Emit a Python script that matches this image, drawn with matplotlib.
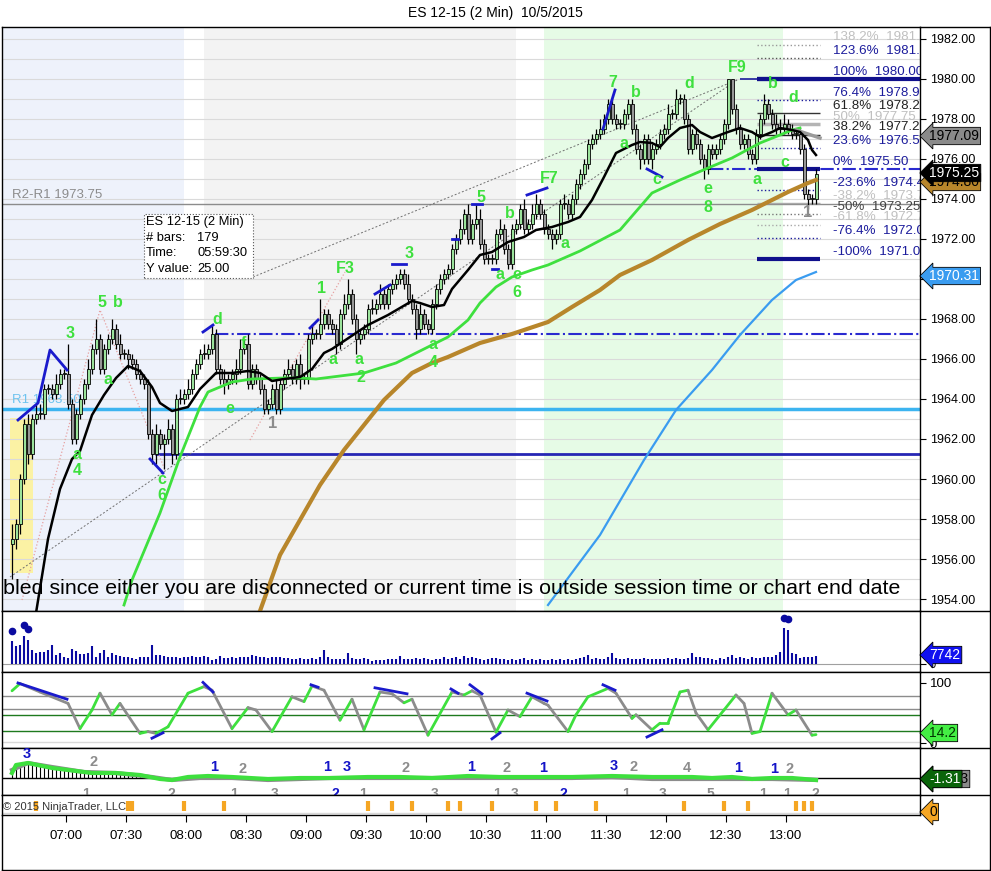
import numpy as np
import matplotlib
matplotlib.use("Agg")
import matplotlib.pyplot as plt
from matplotlib.lines import Line2D
from matplotlib.patches import Rectangle

plt.rcParams['font.family'] = ['Liberation Sans', 'DejaVu Sans']

# ---------------- data ----------------
# 2 minute bars, bar 0 = 06:33
start_minutes = 6 * 60 + 33
bar_minutes = 2
time_labels = ["07:00", "07:30", "08:00", "08:30", "09:00", "09:30", "10:00",
               "10:30", "11:00", "11:30", "12:00", "12:30", "13:00"]

first_open = 1956.75
closes = [
    1957.0, 1957.75, 1960.0, 1962.75, 1961.25, 1963.0, 1963.25, 1963.25, 1964.5, 1964.5,
    1964.25, 1964.75, 1965.25, 1965.25, 1963.75, 1962.0, 1963.25, 1964.0, 1964.75, 1965.5,
    1966.5, 1967.0, 1965.5, 1966.5, 1967.0, 1967.5, 1966.75, 1966.25, 1966.25, 1966.0,
    1965.75, 1965.25, 1965.0, 1964.75, 1962.25, 1961.25, 1962.25, 1961.75, 1962.0, 1962.5,
    1961.25, 1964.0, 1964.0, 1964.25, 1964.5, 1965.25, 1965.75, 1966.25, 1966.25, 1966.5,
    1967.25, 1965.5, 1965.0, 1964.75, 1965.0, 1965.25, 1965.5, 1966.5, 1966.75, 1964.75,
    1965.5, 1965.0, 1964.5, 1963.5, 1963.75, 1964.5, 1963.5, 1964.75, 1965.25, 1965.5,
    1965.0, 1965.75, 1965.0, 1965.0, 1967.0, 1967.25, 1967.25, 1967.75, 1968.25, 1967.75,
    1967.5, 1966.75, 1968.25, 1968.75, 1969.25, 1968.0, 1967.0, 1967.25, 1967.5, 1968.5,
    1968.5, 1968.75, 1969.25, 1968.75, 1969.5, 1969.75, 1970.0, 1970.25, 1969.75, 1969.0,
    1968.5, 1967.5, 1968.25, 1967.75, 1967.5, 1968.75, 1969.5, 1970.0, 1970.25, 1970.5,
    1971.5, 1972.0, 1972.5, 1973.25, 1972.0, 1972.75, 1973.0, 1971.75, 1971.0, 1971.0,
    1971.0, 1972.25, 1972.5, 1971.5, 1970.75, 1972.5, 1972.75, 1973.5, 1972.5, 1972.75,
    1973.25, 1973.75, 1973.25, 1972.5, 1972.25, 1972.0, 1972.25, 1973.75, 1973.75, 1973.25,
    1974.0, 1974.75, 1975.25, 1975.75, 1976.75, 1977.0, 1977.25, 1977.5, 1978.0, 1978.75,
    1978.0, 1977.75, 1977.75, 1978.25, 1978.75, 1977.5, 1976.5, 1976.0, 1977.0, 1976.0,
    1976.5, 1976.75, 1977.25, 1977.5, 1978.25, 1978.25, 1979.0, 1979.0, 1978.0, 1976.5,
    1977.25, 1976.75, 1976.0, 1975.5, 1976.5, 1976.25, 1976.5, 1977.0, 1977.75, 1980.0,
    1978.5, 1977.5, 1976.75, 1977.0, 1976.25, 1976.0, 1977.25, 1978.0, 1978.75, 1978.25,
    1977.75, 1977.5, 1977.5, 1977.75, 1977.5, 1977.25, 1977.25, 1976.5, 1974.25, 1974.0,
    1974.0, 1975.25]
# wick lengths in ticks (0.25) above / below the body
up_ticks = [
    3, 1, 1, 1, 2, 1, 2, 2, 1, 1,  1, 2, 1, 1, 6, 1, 1, 1, 1, 2,
    1, 4, 1, 1, 1, 2, 1, 2, 1, 1,  1, 1, 1, 1, 1, 1, 2, 1, 1, 2,
    1, 1, 2, 1, 2, 1, 1, 1, 2, 1,  2, 1, 1, 2, 1, 1, 2, 2, 1, 2,
    1, 1, 1, 1, 1, 1, 2, 1, 1, 2,  1, 1, 2, 1, 1, 2, 1, 5, 1, 1,
    1, 1, 1, 2, 3, 1, 1, 1, 1, 1,  2, 1, 2, 1, 1, 1, 1, 1, 1, 2,
    1, 1, 2, 1, 1, 1, 1, 1, 1, 1,  1, 1, 2, 1, 2, 1, 3, 2, 1, 1,
    1, 1, 2, 1, 1, 1, 1, 1, 2, 1,  2, 2, 1, 1, 1, 1, 1, 1, 2, 1,
    1, 1, 1, 1, 1, 1, 1, 2, 1, 1,  1, 1, 1, 1, 1, 1, 1, 1, 1, 1,
    1, 1, 1, 1, 2, 1, 2, 1, 1, 1,  1, 1, 1, 1, 1, 1, 1, 1, 1, 0,
    0, 1, 1, 1, 1, 1, 1, 1, 2, 1,  1, 2, 2, 2, 1, 1, 1, 1, 1, 1,
    1, 1]
down_ticks = [
    7, 2, 2, 1, 2, 1, 1, 1, 1, 1,  1, 1, 1, 1, 1, 1, 1, 1, 1, 1,
    1, 1, 1, 1, 1, 1, 1, 1, 1, 2,  1, 1, 1, 1, 1, 2, 2, 1, 5, 1,
    2, 1, 1, 1, 1, 1, 1, 1, 1, 1,  1, 1, 1, 2, 1, 1, 2, 1, 1, 1,
    1, 1, 1, 1, 1, 1, 1, 1, 1, 1,  1, 1, 2, 1, 1, 1, 1, 1, 1, 1,
    1, 2, 1, 1, 1, 1, 3, 1, 1, 1,  1, 1, 1, 1, 1, 1, 1, 1, 1, 1,
    1, 2, 1, 1, 1, 1, 1, 1, 1, 1,  1, 1, 1, 1, 1, 1, 1, 1, 1, 1,
    1, 1, 1, 1, 1, 1, 1, 1, 1, 1,  1, 1, 1, 1, 1, 2, 1, 1, 1, 1,
    1, 1, 1, 1, 1, 1, 1, 1, 1, 1,  1, 1, 1, 1, 1, 1, 1, 2, 1, 1,
    2, 1, 1, 1, 1, 1, 1, 1, 1, 1,  1, 1, 1, 2, 1, 1, 1, 1, 1, 1,
    1, 1, 1, 1, 1, 1, 1, 1, 1, 1,  1, 1, 1, 1, 1, 1, 1, 1, 1, 2,
    1, 1]

volumes = [
    22600, 17400, 18400, 27400, 23200, 13600, 10400, 11300, 11900, 13600,
    18400, 8700, 10400, 7100, 5500, 14200, 12900, 9700, 9700, 10400,
    17400, 7100, 10400, 13600, 7100, 10400, 8700, 7700, 6500, 6500,
    5500, 4500, 6500, 6500, 7100, 18400, 8700, 8700, 7700, 7100,
    7100, 6500, 5500, 6500, 6500, 7700, 7100, 6500, 7700, 7100,
    3900, 4500, 7700, 5500, 5500, 6500, 5500, 6500, 7100, 6500,
    8700, 7700, 7100, 6500, 5500, 7100, 6500, 6500, 5500, 5500,
    4500, 4500, 5500, 4500, 4500, 5500, 4500, 6500, 13600, 6500,
    4500, 4500, 4500, 4500, 10900, 5500, 4500, 4500, 5500, 4500,
    3200, 3900, 3900, 3900, 4500, 4500, 4500, 7700, 4500, 4500,
    4500, 5500, 4500, 5500, 4500, 3900, 4500, 4500, 6500, 4500,
    5500, 7100, 4500, 7700, 5500, 6500, 5500, 4500, 3900, 4500,
    5500, 5500, 4500, 4500, 3900, 4500, 3900, 4500, 5500, 3900,
    4500, 3900, 4500, 3900, 3900, 4500, 3900, 4500, 3900, 4500,
    3900, 4500, 5500, 6500, 8700, 4500, 5800, 4500, 4500, 6500,
    10400, 5500, 4500, 4500, 5500, 4500, 4500, 4500, 5500, 4500,
    4500, 4500, 4500, 4500, 5500, 4500, 5500, 4500, 4500, 5500,
    10400, 6500, 6500, 5500, 5500, 4500, 3600, 5500, 4500, 7100,
    8700, 5500, 6500, 5500, 4500, 6500, 5500, 5500, 6500, 6500,
    7100, 8700, 11600, 34600, 32900, 10400, 9700, 5500, 6500, 6500,
    6500, 7742]
vol_dot_bars = [0, 3, 4, 193, 194]
vol_dot_vals = [31900, 37800, 33900, 44500, 43600]

# moving averages (sampled bar, value)
ema_bars = [6, 9, 12, 15, 17, 20, 23, 26, 29, 32, 35, 37, 40, 44, 47, 51, 55, 59, 62, 65,
            68, 72, 75, 78, 80, 83, 86, 89, 94, 97, 100, 102, 105, 108, 110, 114, 117, 120,
            124, 128, 131, 135, 139, 142, 145, 148, 151, 155, 157, 160, 162, 164, 167, 170,
            172, 175, 177, 179, 182, 185, 187, 190, 192, 195, 197, 199, 200, 201]
ema_vals = [1953.3, 1957.0, 1959.5, 1961.0, 1961.4, 1963.2, 1964.2, 1965.05, 1965.65, 1965.4,
            1964.6, 1963.8, 1963.4, 1963.6, 1964.5, 1965.3, 1965.3, 1965.4, 1965.3, 1964.9,
            1965.0, 1965.1, 1965.5, 1966.3, 1966.5, 1966.9, 1967.3, 1967.7, 1968.2, 1968.55,
            1968.9, 1968.8, 1968.6, 1968.7, 1969.5, 1970.45, 1971.2, 1971.35, 1971.85, 1972.1,
            1972.45, 1972.6, 1972.85, 1973.1, 1973.95, 1975.1, 1976.3, 1976.7, 1976.85, 1976.8,
            1976.6, 1977.05, 1977.55, 1977.7, 1977.35, 1977.05, 1977.2, 1977.35, 1977.55, 1977.35,
            1977.1, 1977.35, 1977.55, 1977.45, 1977.35, 1976.95, 1976.45, 1976.2]
sma_green_bars = [28, 30, 37, 42, 47, 49, 52, 55, 60, 68, 72, 76, 80, 88, 96, 104, 109, 114,
                  117, 121, 125, 130, 134, 138, 142, 152, 160, 167, 174, 180, 187, 192, 195, 197]
sma_green_vals = [1953.7, 1954.95, 1958.3, 1961.1, 1963.6, 1964.35, 1964.6, 1964.85, 1965.0,
                  1965.05, 1965.05, 1965.0, 1965.1, 1965.3, 1965.8, 1966.6, 1967.1, 1967.95,
                  1968.8, 1969.6, 1970.1, 1970.45, 1970.7, 1971.05, 1971.4, 1972.45, 1974.3,
                  1974.95, 1975.55, 1976.05, 1976.8, 1977.2, 1977.45, 1977.55]
sma_brown_bars = [62, 67, 72, 77, 83, 89, 93, 100, 105, 109, 117, 125, 134, 140, 147, 152,
                  160, 169, 177, 185, 194, 199, 201]
sma_brown_vals = [1953.4, 1956.2, 1957.95, 1959.7, 1961.45, 1962.95, 1963.95, 1965.3, 1965.8,
                  1966.1, 1966.8, 1967.25, 1967.85, 1968.6, 1969.45, 1970.2, 1970.95, 1971.95,
                  1972.75, 1973.45, 1974.35, 1974.8, 1974.95]
sma_blue_bars = [134, 147, 158, 166, 175, 182, 190, 196, 201]
sma_blue_vals = [1953.7, 1957.2, 1960.95, 1963.45, 1965.45, 1967.2, 1968.95, 1969.95, 1970.35]

# stochastics (sampled)
sto_bars = [0, 2, 7, 14, 17, 20, 22, 25, 27, 32, 34, 36, 39, 44, 48, 50, 55, 59, 61, 65,
            70, 73, 75, 78, 82, 85, 88, 92, 95, 98, 100, 104, 110, 113, 115, 117, 121, 124,
            127, 130, 133, 134, 139, 141, 144, 149, 151, 155, 156, 160, 162, 164, 167, 169,
            171, 174, 178, 181, 183, 185, 187, 190, 194, 196, 200, 201]
sto_vals = [87, 99, 85, 66, 24, 55, 83, 47, 66, 16, 19, 16, 27, 83, 94, 88, 24, 59, 55, 19,
            77, 69, 95, 88, 38, 73, 22, 85, 82, 67, 73, 13, 85, 80, 87, 80, 18, 55, 44, 77,
            66, 63, 19, 47, 77, 91, 83, 41, 47, 22, 33, 33, 85, 88, 50, 22, 55, 80, 66, 16,
            19, 83, 47, 55, 13, 14]
sto_levels = [78, 57, 47, 20, 1.7]
sto_divergences = [[(1.5, 100), (13.75, 73)], [(35, 8), (37.75, 17)], [(47.75, 101), (50.25, 85)],
                   [(74.75, 97), (76.5, 93)], [(90.75, 92), (98.75, 82)], [(109.75, 90), (111.5, 83)],
                   [(114.5, 97), (117.5, 82)], [(120, 7), (122, 17)], [(128.75, 83), (133.75, 70)],
                   [(147.75, 97), (150.75, 88)], [(158.75, 10), (162.5, 22)]]

# macd-style panel (sampled)
macd_bars = [0, 1, 4, 10, 14, 20, 26, 32, 37, 40, 44, 49, 55, 64, 72, 80, 89, 97, 105, 114,
             122, 130, 140, 150, 160, 170, 175, 180, 185, 190, 195, 201]
macd_vals = [5, 13, 15, 10, 8, 5, 5, 3, -1, -2, 1, 2, 1, -1, 0, 0, 1, 1, 0, 2,
             1, 1, 1, 2, 1, 1, 0, 1, -1, 0, 0, -2]
signal_bars = [0, 4, 10, 18, 26, 35, 40, 47, 55, 64, 72, 80, 89, 97, 110, 125, 140, 150,
               160, 170, 180, 190, 201]
signal_vals = [8, 15, 11, 6, 5, 1, -2, 0, 0, -2, -1, 0, 0, 0, 0, 0, 0, 1, -1, -1, -1, -1, -2]
hist_vals = [8, 11, 13, 14, 15, 15, 15, 14, 13, 12, 11, 11, 10, 10, 9, 9, 8, 7, 6, 6, 6, 5,
             5, 5, 5, 5, 5, 4, 4, 4, 3, 3, 3, 3, 2, 2, 1, 1, -1, -1, -2, -2, -1]
swing_top = [("3", 3.75, 24, 'b'), ("2", 20.5, 16, 'g'), ("1", 50.5, 11, 'b'), ("2", 57.75, 9, 'g'),
             ("1", 78.75, 11, 'b'), ("3", 83.75, 11, 'b'), ("2", 98.5, 10, 'g'), ("1", 114.75, 11, 'b'),
             ("2", 123.75, 10, 'g'), ("1", 132.75, 10, 'b'), ("3", 150.5, 12, 'b'), ("2", 155.5, 11, 'g'),
             ("4", 168.75, 10, 'g'), ("1", 181.5, 10, 'b'), ("1", 190.5, 9, 'b'), ("2", 194.5, 9, 'g')]
swing_bottom = [("1", 18.5, 'g'), ("2", 39.75, 'g'), ("1", 55.5, 'g'), ("3", 65.75, 'g'),
                ("2", 80.75, 'b'), ("1", 87.75, 'g'), ("3", 105.75, 'g'), ("1", 121.25, 'g'),
                ("3", 125.75, 'g'), ("2", 137.75, 'b'), ("1", 153.5, 'g'), ("3", 162.75, 'g'),
                ("5", 174.5, 'g'), ("1", 187.75, 'g'), ("1", 193.75, 'g'), ("2", 200.75, 'g')]

# signal markers at the bottom strip
marker_bars = [6, 29, 30, 43, 53, 89, 95, 100, 109, 112, 120, 131, 136, 146, 168, 178, 184, 196, 198, 200]

# wave labels on the price panel (text, bar, price)
wave_labels = [("3", 14.5, 1967.3), ("5", 22.5, 1968.8), ("b", 26.5, 1968.8), ("a", 24, 1964.95),
               ("a", 16.25, 1961.2), ("4", 16.25, 1960.4), ("c", 37.5, 1960.0), ("6", 37.5, 1959.15),
               ("d", 51.25, 1967.95), ("f", 57.75, 1966.8), ("e", 54.5, 1963.55), ("1", 77.25, 1969.5),
               ("F3", 83.25, 1970.5), ("a", 80.25, 1965.95), ("a", 86.75, 1965.95), ("2", 87.25, 1965.1),
               ("3", 99.25, 1971.25), ("a", 105.25, 1966.7), ("4", 105.25, 1965.85), ("5", 117.25, 1974.05),
               ("b", 124.5, 1973.25), ("a", 122, 1970.2), ("c", 126.25, 1970.2), ("6", 126.25, 1969.35),
               ("F7", 134.25, 1975.0), ("a", 138.25, 1971.75), ("7", 150.25, 1979.8), ("b", 156, 1979.3),
               ("a", 153, 1976.75), ("c", 161.25, 1974.95), ("d", 169.25, 1979.75), ("e", 174, 1974.5),
               ("8", 174, 1973.6), ("F9", 181.25, 1980.55), ("b", 190.25, 1979.75), ("d", 195.25, 1979.05),
               ("c", 193.25, 1975.8), ("a", 186.25, 1974.95)]
gray_labels = [("1", 65.25, 1962.75), ("1", 199, 1973.3)]

price_divergences = [[(1.5, 1962.95), (6.5, 1963.8), (9.5, 1966.45), (13.75, 1965.45)],
                     [(34.5, 1961.0), (37.75, 1960.3)], [(47.75, 1967.35), (50.25, 1967.7)],
                     [(74.5, 1967.55), (76.5, 1967.95)], [(90.75, 1969.25), (94.5, 1969.7)],
                     [(95, 1970.75), (98.5, 1970.75)], [(110, 1972.0), (111.5, 1972.0)],
                     [(115, 1973.75), (117.5, 1973.75)], [(120, 1970.5), (121.5, 1970.5)],
                     [(128.75, 1974.2), (133.75, 1974.55)], [(147.75, 1977.5), (150.75, 1979.45)],
                     [(158.75, 1975.5), (162.5, 1975.1)]]

# fibonacci extension (0% = 1975.50, 100% = 1980.00)
fib_pct = ["138.2%", "123.6%", "100%", "76.4%", "61.8%", "50%", "38.2%", "23.6%", "0%",
           "-23.6%", "-38.2%", "-50%", "-61.8%", "-76.4%", "-100%"]
fib_txt = ["1981.7", "1981.0", "1980.00", "1978.94", "1978.28", "1977.75", "1977.22", "1976.56",
           "1975.50", "1974.4", "1973.7", "1973.25", "1972.7", "1972.0", "1971.00"]
fib_price = [1981.72, 1981.06, 1980.0, 1978.94, 1978.28, 1977.75, 1977.22, 1976.56, 1975.5,
             1974.44, 1973.78, 1973.25, 1972.72, 1972.06, 1971.0]

# ---------------- drawing ----------------
W, H = 991, 871
fig = plt.figure(figsize=(W / 100, H / 100), dpi=100)
fig.patch.set_facecolor('white')


def box(x0, y0, x1, y1):
    return [x0 / W, 1 - y1 / H, (x1 - x0) / W, (y1 - y0) / H]


ax = fig.add_axes(box(2, 27, 920, 611))
axv = fig.add_axes(box(2, 611, 920, 672))
axs = fig.add_axes(box(2, 672, 920, 748))
axd = fig.add_axes(box(2, 748, 920, 795))
axk = fig.add_axes(box(2, 795, 920, 815))
for a in [ax, axv, axs, axd, axk]:
    a.set_xlim(-2.5, 227)
    a.set_xticks([])
    a.set_yticks([])
    a.yaxis.tick_right()
    a.tick_params(axis='y', length=4, pad=3, labelsize=9)
    for s in a.spines.values():
        s.set_color('black')
        s.set_linewidth(1)

navy = '#1c1c9c'
lime = '#3ee03e'

# -------- price panel --------
ax.set_ylim(1953.4, 1982.6)
ax.axvspan(-2.5, 43, color='#eef2fb', lw=0, zorder=0)
ax.axvspan(48, 126, color='#f3f3f3', lw=0, zorder=0)
ax.axvspan(133, 192.75, color='#e6fbe6', lw=0, zorder=0)
ax.add_patch(Rectangle((-0.5, 1955.3), 5.75, 7.75, color='#fbf2a4', lw=0, zorder=0.3))
for p in range(1954, 1983):
    ax.axhline(p, color='#dadada', lw=0.8, zorder=0.5)

ax.axhline(1973.75, color='#8c8c8c', lw=1, zorder=1)
ax.axhline(1963.5, color='#3cb4f0', lw=2.5, zorder=1)
ax.hlines(1961.25, 35.75, 227, color='#2626b4', lw=2, zorder=1)
ax.hlines(1967.25, 50.75, 227, color='#2a2ad0', lw=1.5, ls='-.', zorder=1)
ax.hlines(1975.5, 174.5, 227, color='#2a2ad0', lw=1.5, ls='-.', zorder=1)
ax.hlines(1980.0, 182, 186.25, color=navy, lw=1.2, zorder=1)
ax.hlines(1980.0, 186.25, 227, color='#10108c', lw=3, zorder=1.1)
ax.text(0, 1974.2, "R2-R1 1973.75", color='#8c8c8c', fontsize=9.5, va='center', zorder=1.2)
ax.text(0, 1963.95, "R1 1963.50", color='#6ec3ef', fontsize=9.5, va='center', zorder=1.2)

fib_style = {"138.2%": ('#c0c0c0', ':', '#9a9a9a', 1), "123.6%": (navy, ':', '#555555', 1),
             "100%": (navy, '-', '#10108c', 3), "76.4%": (navy, ':', navy, 1),
             "61.8%": ('#222222', '-', '#333333', 1), "50%": ('#c0c0c0', '-', '#b4b4b4', 2.5),
             "38.2%": ('#222222', '-', '#222222', 1), "23.6%": (navy, ':', navy, 1),
             "0%": (navy, '-', '#10108c', 3), "-23.6%": (navy, ':', navy, 1),
             "-38.2%": ('#c0c0c0', '-', '#aaaaaa', 1), "-50%": ('#444444', ':', '#777777', 1),
             "-61.8%": ('#c0c0c0', ':', '#aaaaaa', 1), "-76.4%": (navy, ':', navy, 1),
             "-100%": (navy, '-', '#10108c', 3)}
for lab, val, p in zip(fib_pct, fib_txt, fib_price):
    tc, ls, lc, lw = fib_style[lab]
    ax.hlines(p, 186.25, 202, color=lc, ls=ls, lw=lw, zorder=1.3)
    ax.text(205.25, p + 0.06, lab + "  " + val, color=tc, fontsize=9.6, va='bottom',
            ha='left', clip_on=True, zorder=1.4)

# trend lines and zigzags
ax.plot([-0.5, 181.25], [1955.1, 1979.95], color='#707070', ls=(0, (2, 2)), lw=0.7, zorder=1.5)
ax.plot([60.25, 181.25], [1970.1, 1979.95], color='#707070', ls=(0, (2, 2)), lw=0.7, zorder=1.5)
ax.plot([2.5, 22, 38.25], [1953.95, 1968.45, 1960.45], color='#e6a0a0', ls=':', lw=0.9, zorder=1.5)
ax.plot([59.5, 83.25], [1961.95, 1970.35], color='#e6a0a0', ls=':', lw=0.9, zorder=1.5)

# candles
opens = [first_open] + closes[:-1]
idx = np.arange(len(closes))
o = np.array(opens)
c = np.array(closes)
hi = np.maximum(o, c) + np.array(up_ticks) * 0.25
lo = np.minimum(o, c) - np.array(down_ticks) * 0.25
ax.vlines(idx, lo, hi, color='black', lw=0.9, zorder=3)
body = np.where(np.abs(c - o) < 0.01, 0.04, c - o)
ax.bar(idx, body, bottom=o, width=0.75, color=np.where(c >= o, '#9be39b', '#979797'),
       edgecolor='black', linewidth=0.6, zorder=3.2)

# moving averages
ax.plot(sma_blue_bars, sma_blue_vals, color='#3a9cf0', lw=1.6, zorder=3.5)
ax.plot(sma_brown_bars, sma_brown_vals, color='#b8862b', lw=3, zorder=3.5)
ax.plot(sma_green_bars, sma_green_vals, color='#3ee03e', lw=2, zorder=3.6)
ax.plot([196, 202], [1977.45, 1977.05], color='#9a9a9a', lw=2.5, zorder=3.6)
ax.plot(ema_bars, ema_vals, color='black', lw=1.8, zorder=3.7)

for seg in price_divergences:
    xs, ys = zip(*seg)
    ax.plot(xs, ys, color='#1a1acc', lw=2, zorder=4)
for t, b, p in wave_labels:
    ax.text(b, p, t, color=lime, fontsize=11.5, fontweight='bold', ha='center', va='center', zorder=5)
for t, b, p in gray_labels:
    ax.text(b, p, t, color='#8c8c8c', fontsize=12, fontweight='bold', ha='center', va='center', zorder=5)

# info box
ax.add_patch(Rectangle((33, 1970.05), 27.25, 3.2, fc='white', ec='#555555', ls=':', lw=0.8, zorder=5))
info = [("ES 12-15 (2 Min)", ""), ("# bars:", "179"), ("Time:", "05:59:30"), ("Y value:", "25.00")]
for k, (a_, b_) in enumerate(info):
    yy = 1972.85 - k * 0.78
    ax.text(33.5, yy, a_, fontsize=9.3, va='center', zorder=6)
    ax.text(46.25, yy, b_, fontsize=9.3, va='center', zorder=6)

ax.text(-2.2, 1954.55, "bled since either you are disconnected or current time is outside "
        "session time or chart end date", fontsize=15.4, va='center', ha='left', zorder=6)

ax.set_yticks(np.arange(1954, 1983, 2))
ax.set_yticklabels([f"{v:.2f}" for v in np.arange(1954, 1983, 2)])

# -------- volume --------
axv.set_ylim(-7744, 51304)
axv.axhline(0, color='#a0a0a0', lw=0.8)
axv.vlines(idx, 0, volumes, color='#0a0aa0', lw=1.5)
axv.plot(vol_dot_bars, vol_dot_vals, 'o', color='#0a0aa0', ms=4.5)
axv.set_yticks([0])
axv.set_yticklabels(["0"])
axv.tick_params(axis='y', labelsize=8)

# -------- stochastics --------
axs.set_ylim(-8.33, 118.33)
for lv, col in zip(sto_levels, ['#8c8c8c', '#8c8c8c', '#1e7a1e', '#1e7a1e', '#d9d9d9']):
    axs.axhline(lv, color=col, lw=1)
for k in range(len(sto_bars) - 1):
    rising = sto_vals[k + 1] >= sto_vals[k]
    axs.plot(sto_bars[k:k + 2], sto_vals[k:k + 2], color=lime if rising else '#8c8c8c',
             lw=2, solid_capstyle='round')
for seg in sto_divergences:
    xs, ys = zip(*seg)
    axs.plot(xs, ys, color='#1a1acc', lw=2)
axs.set_yticks([0, 100])
axs.set_yticklabels(["0", "100"])
axs.tick_params(axis='y', labelsize=9.5)

# -------- macd-style panel --------
axd.set_ylim(-17, 30)
axd.axhline(0, color='black', lw=1)
axd.vlines(np.arange(len(hist_vals)), 0, hist_vals, color='black', lw=0.8)
axd.plot(signal_bars, signal_vals, color='#8c8c8c', lw=3)
axd.plot(macd_bars, macd_vals, color=lime, lw=3)
for t, b, v, cc in swing_top:
    axd.text(b, v, t, color='#1414c8' if cc == 'b' else '#8c8c8c', fontsize=10.5,
             fontweight='bold', ha='center', va='center', clip_on=True)
for t, b, cc in swing_bottom:
    axd.text(b, -16.0, t, color='#1414c8' if cc == 'b' else '#8c8c8c', fontsize=10,
             fontweight='bold', ha='center', va='center', clip_on=True)

# -------- marker strip and time axis --------
axk.set_ylim(0, 1)
axk.axhline(0.1, color='#d8d8d8', lw=1)
axk.vlines(marker_bars, 0.2, 0.7, color='#f5a623', lw=3)
axk.text(-2.2, 0.42, "\u00a9 2015 NinjaTrader, LLC", fontsize=8, color='#333333', va='center')
tick_pos = [(int(t[:2]) * 60 + int(t[3:]) - start_minutes) / bar_minutes for t in time_labels]
axk.set_xticks(tick_pos)
axk.set_xticklabels(time_labels)
axk.tick_params(axis='x', length=5, pad=6, labelsize=9.5)

# frame pieces outside the panels
for y in [27, 611, 672, 748, 795]:
    fig.add_artist(Line2D([920 / W, 990 / W], [1 - y / H] * 2, color='black', lw=1))
fig.add_artist(Line2D([990 / W] * 2, [1 - 27 / H, 1 - 870 / H], color='black', lw=1))
fig.add_artist(Line2D([1.5 / W, 990 / W], [1 - 870 / H] * 2, color='black', lw=1))
fig.add_artist(Line2D([1.5 / W] * 2, [1 - 815 / H, 1 - 870 / H], color='black', lw=1))

fig.text(495 / W, 1 - 13 / H, "ES 12-15 (2 Min)  10/5/2015", fontsize=10, ha='center', va='center')


def tag(y, s, fc, tc, x=929):
    fig.text(x / W, 1 - y / H, s, fontsize=10, color=tc, va='center', ha='left', zorder=10,
             bbox=dict(boxstyle='larrow,pad=0.12', fc=fc, ec='black', lw=0.6))


tag(136, "1977.09", '#8a8a8a', 'black')
tag(182, "1974.80", '#b8862b', 'black')
tag(173, "1975.25", 'black', 'white')
tag(276, "1970.31", '#3a9cf0', 'white')
tag(655, "7742", '#1010f0', 'white')
tag(733, "14.2", '#44ee44', '#003300')
tag(779, "-1.313", '#8a8a8a', 'black')
tag(779, "-1.31", '#0a640a', 'white')
tag(812, "0", '#f5a623', 'black')

fig.savefig("out.png", dpi=100)
